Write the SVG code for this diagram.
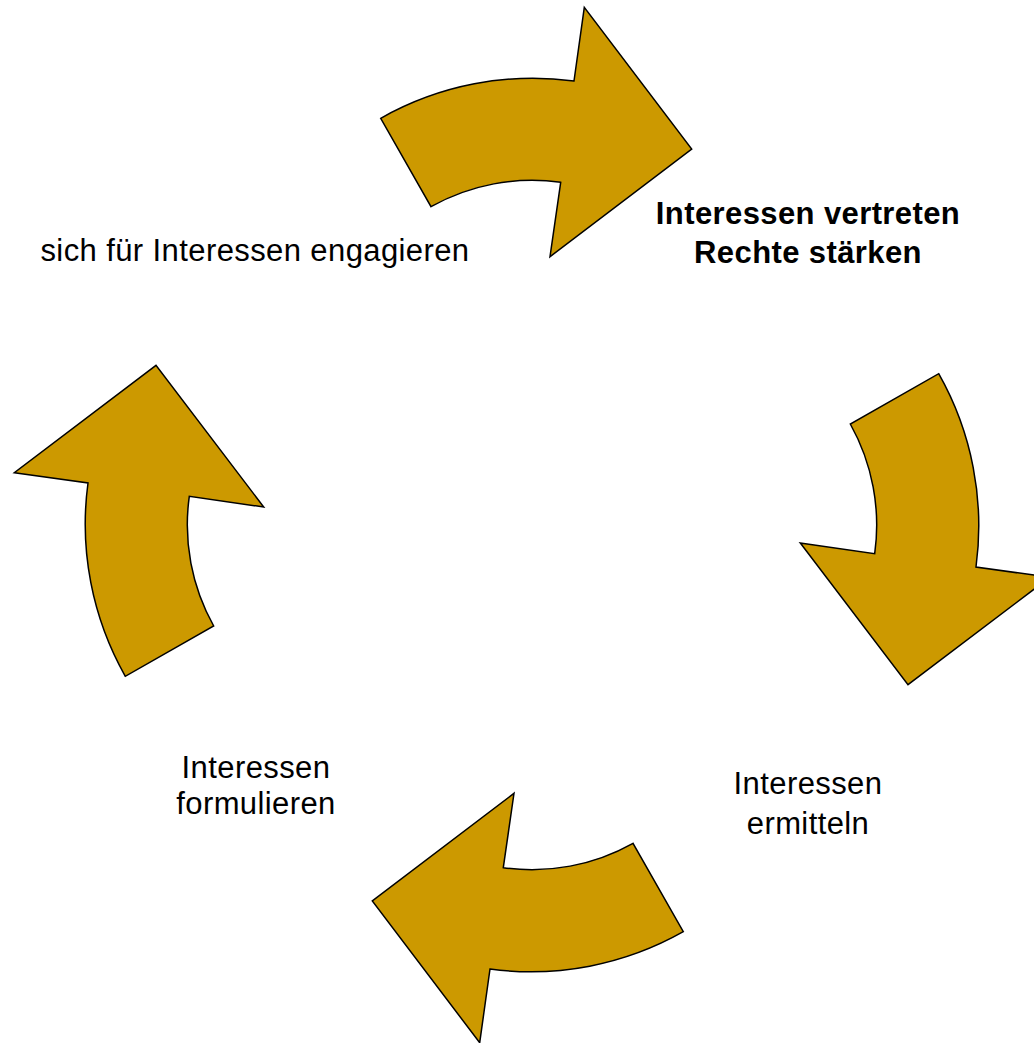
<svg xmlns="http://www.w3.org/2000/svg" xmlns:xlink="http://www.w3.org/1999/xlink" width="1034" height="1043" viewBox="0 0 1034 1043">
<defs>
<style>
.arrow{fill:#CC9900;stroke:#000;stroke-width:1.5;stroke-linejoin:miter}
.lbl{font-family:"Liberation Sans",Arial,sans-serif;font-size:31px;letter-spacing:0.4px;fill:#000;text-anchor:middle}
.bold{font-weight:bold}
</style>
<path id="arr" d="M -151.3 -406.7 A 308.7 308.7 0 0 1 42 -444 L 52.3 -517.7 L 159.7 -376 L 18 -268.3 L 28.7 -342.7 A 206.7 206.7 0 0 0 -101 -318.3 Z"/>
</defs>
<rect width="1034" height="1043" fill="#fff"/>
<g id="connectors">
<g id="arrow-top"><use xlink:href="#arr" href="#arr" class="arrow" transform="translate(532,525)"/></g>
<g id="arrow-right"><use xlink:href="#arr" href="#arr" class="arrow" transform="translate(532,525) rotate(90)"/></g>
<g id="arrow-bottom"><use xlink:href="#arr" href="#arr" class="arrow" transform="translate(532,525) rotate(180)"/></g>
<g id="arrow-left"><use xlink:href="#arr" href="#arr" class="arrow" transform="translate(532,525) rotate(270)"/></g>
</g>
<g id="node-engagieren"><text class="lbl" x="255" y="261">sich für Interessen engagieren</text></g>
<g id="node-vertreten"><text class="lbl bold" x="808" y="224">Interessen vertreten</text><text class="lbl bold" x="808" y="263">Rechte stärken</text></g>
<g id="node-ermitteln"><text class="lbl" x="808" y="794">Interessen</text><text class="lbl" x="808" y="834">ermitteln</text></g>
<g id="node-formulieren"><text class="lbl" x="256" y="778">Interessen</text><text class="lbl" x="256" y="814">formulieren</text></g>
</svg>
